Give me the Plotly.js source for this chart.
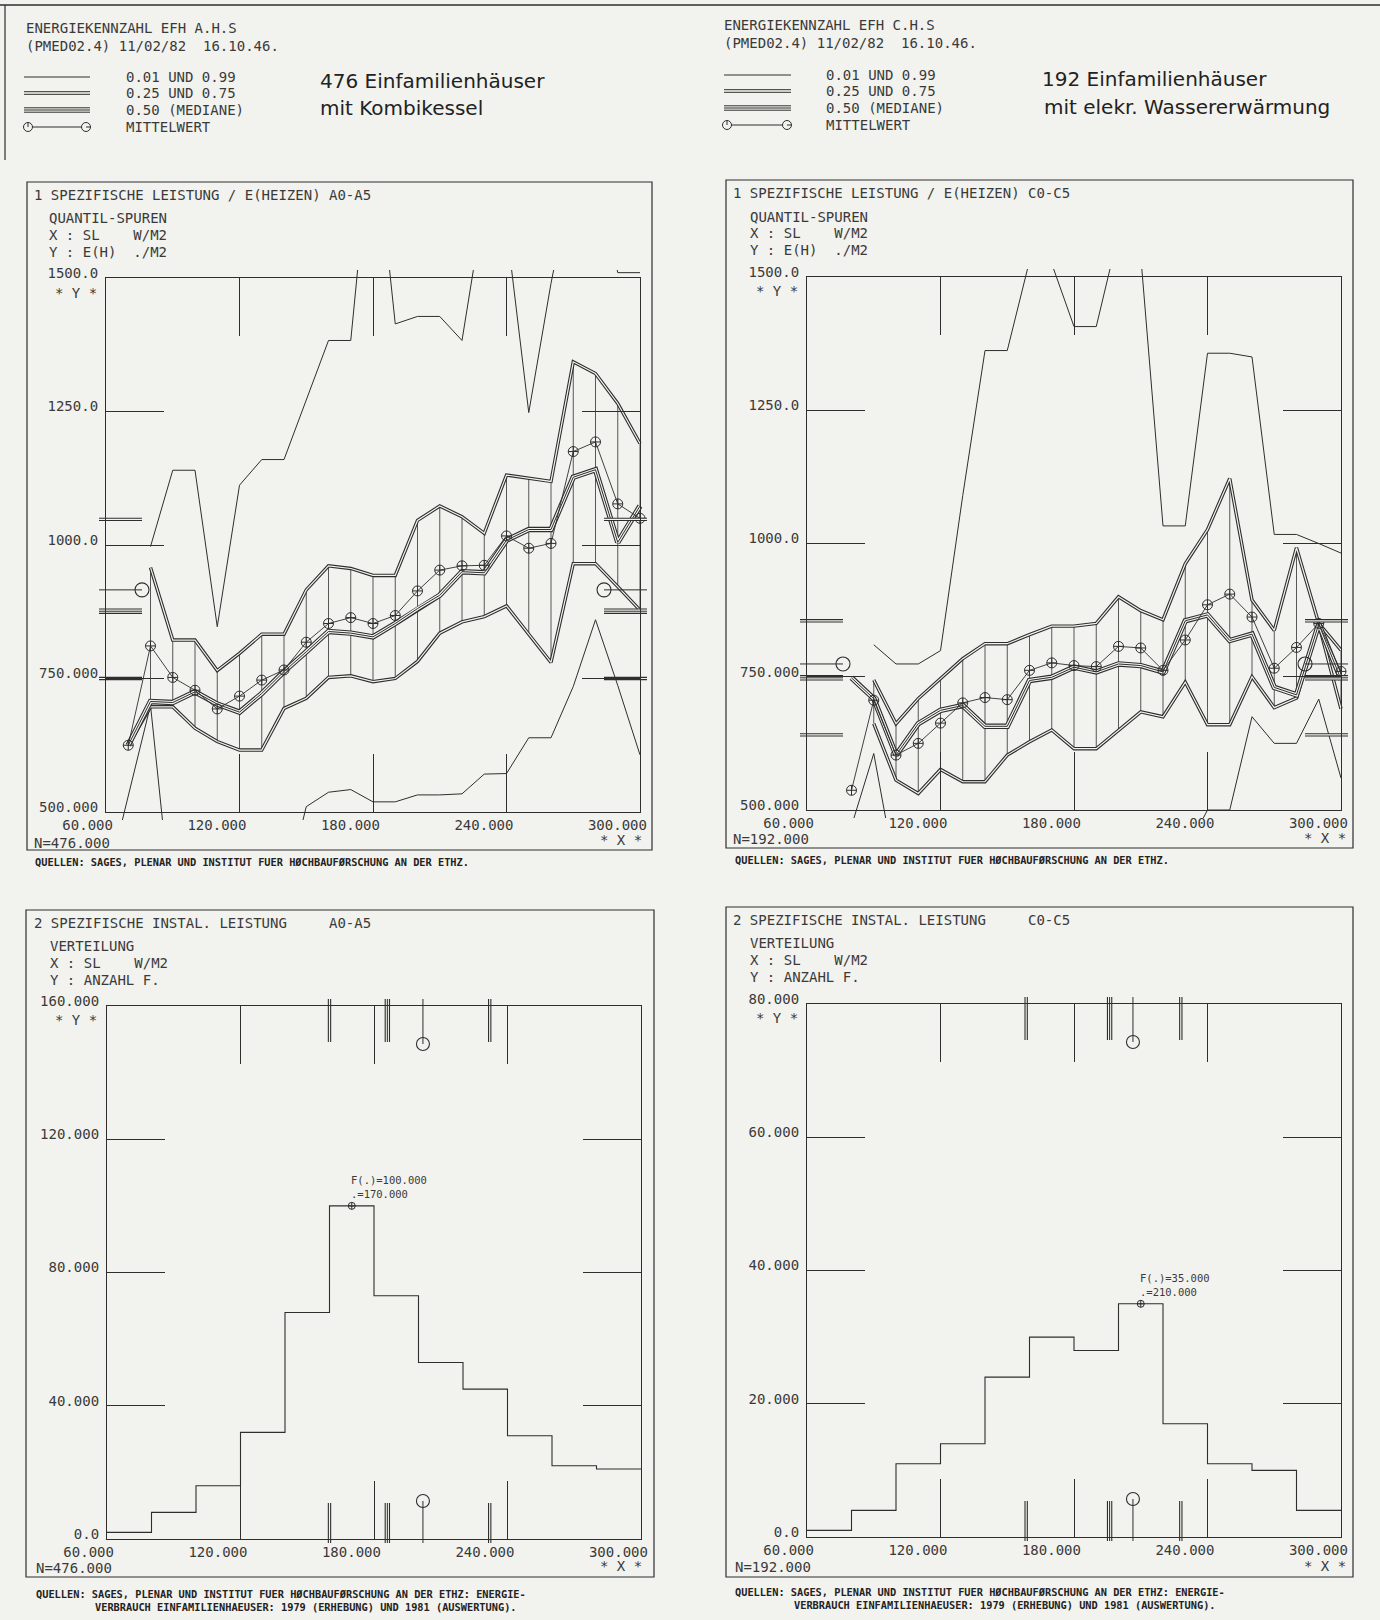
<!DOCTYPE html>
<html><head><meta charset="utf-8">
<script src="https://cdn.plot.ly/plotly-3.0.1.min.js"></script>
<style>html,body{margin:0;padding:0;background:#f2f2ee;}#chart{width:1380px;height:1620px;}</style>
</head><body><div id="chart"></div>
<script>
// ================= DATA =================
const xTickVals = [60,120,180,240,300];
const xTickText = ['60.000','120.000','180.000','240.000','300.000'];
const yTickValsQ = [500,750,1000,1250,1500];
const yTickTextQ = ['500.000','750.000','1000.0','1250.0','1500.0'];
const yTickValsHA = [0,40,80,120,160];
const yTickTextHA = ['0.0','40.000','80.000','120.000','160.000'];
const yTickValsHC = [0,20,40,60,80];
const yTickTextHC = ['0.0','20.000','40.000','60.000','80.000'];

// Panel 1: A0-A5 quantile traces (x = SL W/M2)
const xA     = [60,70,80,90,100,110,120,130,140,150,160,170,180,190,200,210,220,230,240,250,260,270,280,290,300];
const A_q01  = [360,530,700,300,400,400,400,400,340,510,537,542,519,519,532,532,534,571,572,639,639,735,860,737,607];
const A_q25  = [null,625,697,697,657,632,616,616,694,713,752,755,744,750,782,835,856,866,886,833,780,965,965,922,878];
const A_q50  = [null,625,707,705,725,702,687,722,763,800,838,835,828,853,881,906,950,948,1009,1029,1029,1127,1141,1005,1073];
const A_q75  = [null,null,958,822,822,765,797,833,833,916,961,956,943,943,1046,1073,1053,1022,1131,1125,1119,1343,1321,1265,1190];
const A_q99  = [null,null,997,1140,1140,847,1112,1160,1160,1271,1383,1383,1810,1414,1428,1428,1383,1641,1595,1248,1490,1700,1700,1510,1510];
const A_mean = [null,625,811,752,728,693,717,747,766,818,853,864,853,868,914,953,961,962,1017,994,1003,1175,1193,1077,1050];
// marginal y statistics A
const A_yQ25 = 750, A_yMed = 876, A_yMean = 916, A_yQ75 = 1048;

// Panel 2: C0-C5 quantile traces
const xC     = [80,90,100,110,120,130,140,150,160,170,180,190,200,210,220,230,240,250,260,270,280,290,300];
const C_q01  = [470,606,380,400,400,400,400,400,400,400,400,400,400,400,400,420,500,500,675,625,625,708,560];
const C_q25  = [null,662,556,531,576,553,553,603,628,650,615,615,650,684,675,740,660,660,750,692,710,849,690];
const C_q50  = [748,709,603,662,687,696,657,657,743,749,768,759,774,771,759,855,866,818,830,730,716,849,745];
const C_q75  = [null,744,662,709,746,784,812,812,829,845,845,850,900,874,857,962,1026,1122,894,837,992,850,800];
const C_q99  = [null,810,774,774,799,1090,1362,1362,1530,1525,1407,1407,1582,1540,1033,1033,1357,1357,1350,1017,1017,1000,982];
const C_mean = [537,706,603,625,663,701,711,707,762,776,771,769,807,804,762,819,885,905,862,766,805,850,760];
const C_yQ25 = 641, C_yMed = 748, C_yMean = 774, C_yQ75 = 855;

// Panels 3/4: histograms of SL (bins of 20 W/M2)
const binEdges = [60,80,100,120,140,160,180,200,220,240,260,280,300];
const A_counts = [2,8,16,32,68,100,73,53,45,31,22,21];
const C_counts = [1,4,11,14,24,30,28,35,17,11,10,4];
const A_xQ25 = 160, A_xMed = 186, A_xMean = 202, A_xQ75 = 232;
const C_xQ25 = 158.5, C_xMed = 196, C_xMean = 206.5, C_xQ75 = 228;

// ================= STYLE / LAYOUT =================
const W = 1380, H = 1620;
const INK = '#2e2e2e';
const PAPER = '#f2f2ee';
const TXT = '#3a3a3a';
const MONO = '"DejaVu Sans Mono", "Liberation Mono", monospace';
const SANS = '"DejaVu Sans", "Noto Sans", sans-serif';
const PAD = 8;

const panels = [
  {n:1, box:[106,640,278,812],  xr:[60,300], yr:[500,1500], ytv:yTickValsQ,  ytt:yTickTextQ},
  {n:2, box:[807,1341,277,810], xr:[60,300], yr:[500,1500], ytv:yTickValsQ,  ytt:yTickTextQ},
  {n:3, box:[107,641,1006,1539],xr:[60,300], yr:[0,160],    ytv:yTickValsHA, ytt:yTickTextHA},
  {n:4, box:[807,1341,1004,1537],xr:[60,300],yr:[0,80],     ytv:yTickValsHC, ytt:yTickTextHC}
];

const layout = {width:W, height:H, margin:{l:0,r:0,t:0,b:0}, paper_bgcolor:PAPER,
  plot_bgcolor:'rgba(0,0,0,0)', showlegend:false, shapes:[], annotations:[], hovermode:false};
const traces = [];
const sfx = n => n===1 ? '' : String(n);

panels.forEach(p => {
  const [x0,x1,y0,y1] = p.box;
  p.kx = (p.xr[1]-p.xr[0])/(x1-x0);
  p.ky = (p.yr[1]-p.yr[0])/(y1-y0);
  layout['xaxis'+sfx(p.n)] = {domain:[(x0-PAD)/W,(x1+PAD)/W], range:[p.xr[0]-PAD*p.kx, p.xr[1]+PAD*p.kx],
    visible:false, anchor:'y'+sfx(p.n), fixedrange:true};
  layout['yaxis'+sfx(p.n)] = {domain:[1-(y1+PAD)/H, 1-(y0-PAD)/H], range:[p.yr[0]-PAD*p.ky, p.yr[1]+PAD*p.ky],
    visible:false, anchor:'x'+sfx(p.n), fixedrange:true};
  const m = p.n + 4;
  const common = {showline:true, linecolor:INK, linewidth:1.1, mirror:'ticks', ticks:'inside', ticklen:58,
    tickwidth:1, tickcolor:INK, showgrid:false, zeroline:false, fixedrange:true,
    tickfont:{family:MONO, size:14, color:TXT}};
  layout['xaxis'+m] = Object.assign({}, common, {domain:[x0/W, x1/W], range:p.xr, anchor:'y'+m,
    tickmode:'array', tickvals:xTickVals, ticktext:xTickText, ticklabelposition:'outside left', ticklabelshift:8});
  layout['yaxis'+m] = Object.assign({}, common, {domain:[1-y1/H, 1-y0/H], range:p.yr, anchor:'x'+m,
    tickmode:'array', tickvals:p.ytv, ticktext:p.ytt, ticklabelshift:-5, ticklabelstandoff:4});
  traces.push({type:'scatter', x:[p.xr[0]], y:[p.yr[0]], xaxis:'x'+m, yaxis:'y'+m, mode:'markers',
    marker:{opacity:0}, hoverinfo:'skip'});
});

function ln(p, x, y, width, color, extra) {
  return Object.assign({type:'scatter', mode:'lines', x:x, y:y, xaxis:'x'+sfx(p.n), yaxis:'y'+sfx(p.n),
    line:{color:color||INK, width:width}, hoverinfo:'skip', connectgaps:false}, extra||{});
}
function doubleLine(p, x, y, extra) {
  traces.push(ln(p, x, y, 3.4, INK, extra));
  traces.push(ln(p, x, y, 1.2, PAPER, extra));
}
function tripleLine(p, x, y, extra) {
  traces.push(ln(p, x, y, 5.4, INK, extra));
  traces.push(ln(p, x, y, 3.2, PAPER, extra));
  traces.push(ln(p, x, y, 1.0, INK, extra));
}

function quantPanel(p, xs, q01, q25, q50, q75, q99, mean, yq25, ymed, ymean, yq75) {
  const vx = [], vy = [];
  xs.forEach((x,i) => { if (q25[i]!=null && q75[i]!=null) { vx.push(x,x,null); vy.push(q25[i],q75[i],null); } });
  traces.push(ln(p, vx, vy, 0.8));
  traces.push(ln(p, xs, q01, 1.0));
  traces.push(ln(p, xs, q99, 1.0));
  doubleLine(p, xs, q25);
  doubleLine(p, xs, q75);
  tripleLine(p, xs, q50);
  traces.push(Object.assign(ln(p, xs, mean, 0.9), {mode:'lines+markers',
    marker:{symbol:'circle-cross-open', size:10, color:INK, line:{width:1, color:INK}}}));
  // marginal y-distribution marks at left and right edges
  const a0 = p.xr[0]-7*p.kx, a1 = p.xr[0]+36*p.kx, b0 = p.xr[1]-36*p.kx, b1 = p.xr[1]+7*p.kx;
  const seg = v => ({x:[a0,a1,null,b0,b1], y:[v,v,null,v,v]});
  let s = seg(yq25); doubleLine(p, s.x, s.y);
  s = seg(yq75); doubleLine(p, s.x, s.y);
  s = seg(ymed); tripleLine(p, s.x, s.y);
  traces.push(ln(p, [a0,a1,null,b0,b1], [ymean,ymean,null,ymean,ymean], 1.0));
  traces.push({type:'scatter', mode:'markers', x:[a1,b0], y:[ymean,ymean], xaxis:'x'+sfx(p.n), yaxis:'y'+sfx(p.n),
    marker:{symbol:'circle-open', size:14, color:INK, line:{width:1.1, color:INK}}, hoverinfo:'skip'});
}

function histPanel(p, edges, counts, xq25, xmed, xmean, xq75) {
  traces.push(ln(p, edges, counts.concat([counts[counts.length-1]]), 1.1, INK, {line:{color:INK, width:1.1, shape:'hv'}}));
  // mode
  let im = 0; counts.forEach((c,i) => { if (c > counts[im]) im = i; });
  const mx = (edges[im]+edges[im+1])/2, my = counts[im];
  traces.push({type:'scatter', mode:'markers', x:[mx], y:[my], xaxis:'x'+sfx(p.n), yaxis:'y'+sfx(p.n),
    marker:{symbol:'circle-cross-open', size:7, color:INK, line:{width:1, color:INK}}, hoverinfo:'skip'});
  layout.annotations.push({xref:'x'+sfx(p.n), yref:'y'+sfx(p.n), x:mx, y:my, showarrow:false,
    text:'F(.)='+my.toFixed(3)+'<br>.='+mx.toFixed(3), xanchor:'left', yanchor:'bottom', align:'left',
    xshift:-3, yshift:4, font:{family:MONO, size:10.5, color:TXT}});
  // marginal x-distribution marks at top and bottom
  const t0 = p.yr[1]+7*p.ky, t1 = p.yr[1]-36*p.ky, u0 = p.yr[0]-4*p.ky, u1 = p.yr[0]+36*p.ky;
  const seg = v => ({x:[v,v,null,v,v], y:[t0,t1,null,u0,u1]});
  let s = seg(xq25); doubleLine(p, s.x, s.y);
  s = seg(xq75); doubleLine(p, s.x, s.y);
  s = seg(xmed); tripleLine(p, s.x, s.y);
  const tm = p.yr[1]-38*p.ky, um = p.yr[0]+38*p.ky;
  traces.push(ln(p, [xmean,xmean,null,xmean,xmean], [t0,tm,null,u0,um], 1.0));
  traces.push({type:'scatter', mode:'markers', x:[xmean,xmean], y:[tm,um], xaxis:'x'+sfx(p.n), yaxis:'y'+sfx(p.n),
    marker:{symbol:'circle-open', size:13, color:INK, line:{width:1.1, color:INK}}, hoverinfo:'skip'});
}

quantPanel(panels[0], xA, A_q01, A_q25, A_q50, A_q75, A_q99, A_mean, A_yQ25, A_yMed, A_yMean, A_yQ75);
quantPanel(panels[1], xC, C_q01, C_q25, C_q50, C_q75, C_q99, C_mean, C_yQ25, C_yMed, C_yMean, C_yQ75);
histPanel(panels[2], binEdges, A_counts, A_xQ25, A_xMed, A_xMean, A_xQ75);
histPanel(panels[3], binEdges, C_counts, C_xQ25, C_xMed, C_xMean, C_xQ75);

// ================= DECORATION (frames, header legend, texts) =================
function pline(x0,y0,x1,y1,w) {
  layout.shapes.push({type:'line', xref:'paper', yref:'paper', x0:x0/W, x1:x1/W, y0:1-y0/H, y1:1-y1/H,
    line:{color:INK, width:w||1}});
}
function prect(x0,x1,y0,y1) {
  layout.shapes.push({type:'rect', xref:'paper', yref:'paper', x0:x0/W, x1:x1/W, y0:1-y1/H, y1:1-y0/H,
    line:{color:INK, width:1.2}, fillcolor:'rgba(0,0,0,0)'});
}
function pcircle(cx,cy,r) {
  layout.shapes.push({type:'circle', xref:'paper', yref:'paper', x0:(cx-r)/W, x1:(cx+r)/W, y0:1-(cy+r)/H, y1:1-(cy-r)/H,
    line:{color:INK, width:1}});
}
function txt(x,y,t,o) {
  o = o||{};
  t = t.replace(/ {2,}/g, m => '\u00a0'.repeat(m.length));
  layout.annotations.push({xref:'paper', yref:'paper', x:x/W, y:1-y/H, text:t, showarrow:false,
    xanchor:o.xa||'left', yanchor:'middle', align:'left',
    font:{family:o.f||MONO, size:o.s||14, color:o.c||TXT}});
}

// page border
pline(0,5,W,5,1.4); pline(5,5,5,160,1.2);
// panel frames
prect(27,652,182,850); prect(726,1353,180,848); prect(26,654,910,1577); prect(726,1353,907,1577);

// header legends
[{x0:24,x1:90,c0:28,c1:86,rows:[77,93,110,127],tx:124,hx:24,hy:[28,46],sys:'A.H.S'},
 {x0:724,x1:791,c0:727,c1:787,rows:[75,91,108,125],tx:824,hx:722,hy:[25,43],sys:'C.H.S'}].forEach(L => {
  pline(L.x0,L.rows[0],L.x1,L.rows[0],1);
  pline(L.x0,L.rows[1]-1.3,L.x1,L.rows[1]-1.3,1); pline(L.x0,L.rows[1]+1.3,L.x1,L.rows[1]+1.3,1);
  pline(L.x0,L.rows[2]-2.2,L.x1,L.rows[2]-2.2,1); pline(L.x0,L.rows[2],L.x1,L.rows[2],1); pline(L.x0,L.rows[2]+2.2,L.x1,L.rows[2]+2.2,1);
  pline(L.c0+4.5,L.rows[3],L.c1-4.5,L.rows[3],1);
  pcircle(L.c0,L.rows[3],4.5); pcircle(L.c1,L.rows[3],4.5);
  pline(L.c0,L.rows[3],L.c0,L.rows[3]-4.5,1); pline(L.c1,L.rows[3],L.c1+4.5,L.rows[3],1);
  txt(L.tx,L.rows[0],'0.01 UND 0.99'); txt(L.tx,L.rows[1],'0.25 UND 0.75');
  txt(L.tx,L.rows[2],'0.50 (MEDIANE)'); txt(L.tx,L.rows[3],'MITTELWERT');
  txt(L.hx,L.hy[0],'ENERGIEKENNZAHL EFH '+L.sys);
  txt(L.hx,L.hy[1],'(PMED02.4) 11/02/82  16.10.46.');
});

// big titles
txt(318,81,'476 Einfamilienhäuser',{f:SANS,s:20,c:'#222'});
txt(318,108,'mit Kombikessel',{f:SANS,s:20,c:'#222'});
txt(1040,79,'192 Einfamilienhäuser',{f:SANS,s:20,c:'#222'});
txt(1042,107,'mit elekr. Wassererwärmung',{f:SANS,s:20,c:'#222'});

// panel texts
txt(32,195,'1 SPEZIFISCHE LEISTUNG / E(HEIZEN) A0-A5');
txt(47,218,'QUANTIL-SPUREN'); txt(47,235,'X : SL    W/M2'); txt(47,252,'Y : E(H)  ./M2');
txt(731,193,'1 SPEZIFISCHE LEISTUNG / E(HEIZEN) C0-C5');
txt(748,217,'QUANTIL-SPUREN'); txt(748,233,'X : SL    W/M2'); txt(748,250,'Y : E(H)  ./M2');
txt(32,923,'2 SPEZIFISCHE INSTAL. LEISTUNG     A0-A5');
txt(48,946,'VERTEILUNG'); txt(48,963,'X : SL    W/M2'); txt(48,980,'Y : ANZAHL F.');
txt(731,920,'2 SPEZIFISCHE INSTAL. LEISTUNG     C0-C5');
txt(748,943,'VERTEILUNG'); txt(748,960,'X : SL    W/M2'); txt(748,977,'Y : ANZAHL F.');

// axis name markers and N
txt(76,293,'* Y *',{xa:'center'}); txt(777,291,'* Y *',{xa:'center'});
txt(76,1020,'* Y *',{xa:'center'}); txt(777,1018,'* Y *',{xa:'center'});
txt(621,840,'* X *',{xa:'center'}); txt(1325,838,'* X *',{xa:'center'});
txt(621,1566,'* X *',{xa:'center'}); txt(1325,1566,'* X *',{xa:'center'});
txt(32,843,'N=476.000'); txt(731,839,'N=192.000');
txt(34,1568,'N=476.000'); txt(733,1567,'N=192.000');

// sources
const SRC1 = 'QUELLEN: SAGES, PLENAR UND INSTITUT FUER HØCHBAUFØRSCHUNG AN DER ETHZ.';
const SRC2a = 'QUELLEN: SAGES, PLENAR UND INSTITUT FUER HØCHBAUFØRSCHUNG AN DER ETHZ: ENERGIE-';
const SRC2b = 'VERBRAUCH EINFAMILIENHAEUSER: 1979 (ERHEBUNG) UND 1981 (AUSWERTUNG).';
txt(33,862,'<b>'+SRC1+'</b>',{s:10.3,c:'#222'});
txt(733,860,'<b>'+SRC1+'</b>',{s:10.3,c:'#222'});
txt(34,1594,'<b>'+SRC2a+'</b>',{s:10.3,c:'#222'});
txt(93,1607,'<b>'+SRC2b+'</b>',{s:10.3,c:'#222'});
txt(733,1592,'<b>'+SRC2a+'</b>',{s:10.3,c:'#222'});
txt(792,1605,'<b>'+SRC2b+'</b>',{s:10.3,c:'#222'});

Plotly.newPlot('chart', traces, layout, {staticPlot:true});
</script>
</body></html>
